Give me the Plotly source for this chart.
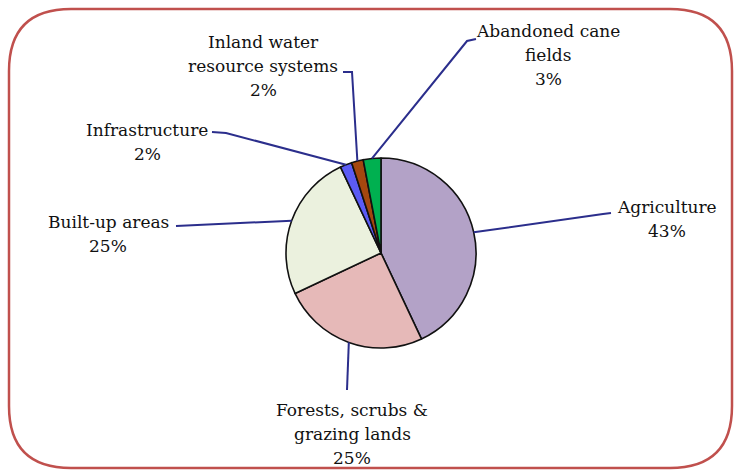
import math
import plotly.graph_objects as go

# ---- data ----
categories = ["Agriculture", "Forests, scrubs &<br>grazing lands", "Built-up areas",
              "Infrastructure", "Inland water<br>resource systems", "Abandoned cane<br>fields"]
values = [43, 25, 25, 2, 2, 3]
colors = ["#B3A2C7", "#E6B9B8", "#EBF1DE", "#5B5BF5", "#A4470F", "#00B050"]

# page geometry (body margin removed below, so figure pixels = page pixels)
OFF = 0
W, H = 734, 470
cx, cy, r = 381, 253, 95  # pie centre / radius in page pixels

# label layout (page pixels): text centre x, y of first line, elbow, leader end
label_layout = [
    dict(tx=667, ty=207, elbow=(603, 214), end=(611, 213)),
    dict(tx=352, ty=410, elbow=(347, 390), end=(347, 390)),
    dict(tx=108, ty=222, elbow=(240, 223), end=(176, 226)),
    dict(tx=147, ty=130, elbow=(226, 133), end=(212, 132)),
    dict(tx=263, ty=42, elbow=(352, 72), end=(343, 72)),
    dict(tx=548, ty=31, elbow=(467, 41), end=(476, 39)),
]
LINE_GAP = 24
FONT_FAMILY = "DejaVu Serif"


def px(x):
    return (x - OFF) / W


def py(y):
    return 1 - (y - OFF) / H


fig = go.Figure(go.Pie(
    labels=categories,
    values=values,
    sort=False,
    direction="clockwise",
    rotation=0,
    marker=dict(colors=colors, line=dict(color="#111111", width=1.6)),
    textinfo="none",
    hoverinfo="label+percent",
    showlegend=False,
    domain=dict(x=[px(cx - r), px(cx + r)], y=[py(cy + r), py(cy - r)]),
))

total = sum(values)
shapes = []
annotations = []
cum = 0
font = dict(family=FONT_FAMILY, size=17, color="#111111")
for cat, v, lay in zip(categories, values, label_layout):
    mid = (cum + v / 2) / total * 2 * math.pi
    cum += v
    sx = cx + r * math.sin(mid)
    sy = cy - r * math.cos(mid)
    ex, ey = lay["elbow"]
    fx, fy = lay["end"]
    path = f"M {px(sx)},{py(sy)} L {px(ex)},{py(ey)} L {px(fx)},{py(fy)}"
    shapes.append(dict(type="path", xref="paper", yref="paper", path=path,
                       line=dict(color="#2B2E8C", width=2)))
    pct = round(v / total * 100)
    lines = cat.split("<br>") + [f"{pct}%"]
    for i, line in enumerate(lines):
        annotations.append(dict(
            x=px(lay["tx"]), y=py(lay["ty"] + i * LINE_GAP), xref="paper", yref="paper",
            text=line, showarrow=False, align="center",
            xanchor="center", yanchor="middle", font=font,
        ))

# rounded frame
x0, y0, x1, y1, rad = 9, 9, 732, 468, 62
frame = (f"M {px(x0+rad)},{py(y0)} L {px(x1-rad)},{py(y0)} "
         f"Q {px(x1)},{py(y0)} {px(x1)},{py(y0+rad)} "
         f"L {px(x1)},{py(y1-rad)} Q {px(x1)},{py(y1)} {px(x1-rad)},{py(y1)} "
         f"L {px(x0+rad)},{py(y1)} Q {px(x0)},{py(y1)} {px(x0)},{py(y1-rad)} "
         f"L {px(x0)},{py(y0+rad)} Q {px(x0)},{py(y0)} {px(x0+rad)},{py(y0)} Z")
shapes.append(dict(type="path", xref="paper", yref="paper", path=frame,
                   line=dict(color="#C0504D", width=2.5), layer="below"))

fig.update_layout(
    width=W, height=H,
    margin=dict(l=0, r=0, t=0, b=0),
    paper_bgcolor="white", plot_bgcolor="white",
    font=dict(family=FONT_FAMILY),
    shapes=shapes, annotations=annotations,
)

fig.write_html(
    "out.html",
    config={"displayModeBar": False},
    post_script="document.body.style.margin='0';document.body.style.overflow='hidden';",
)
